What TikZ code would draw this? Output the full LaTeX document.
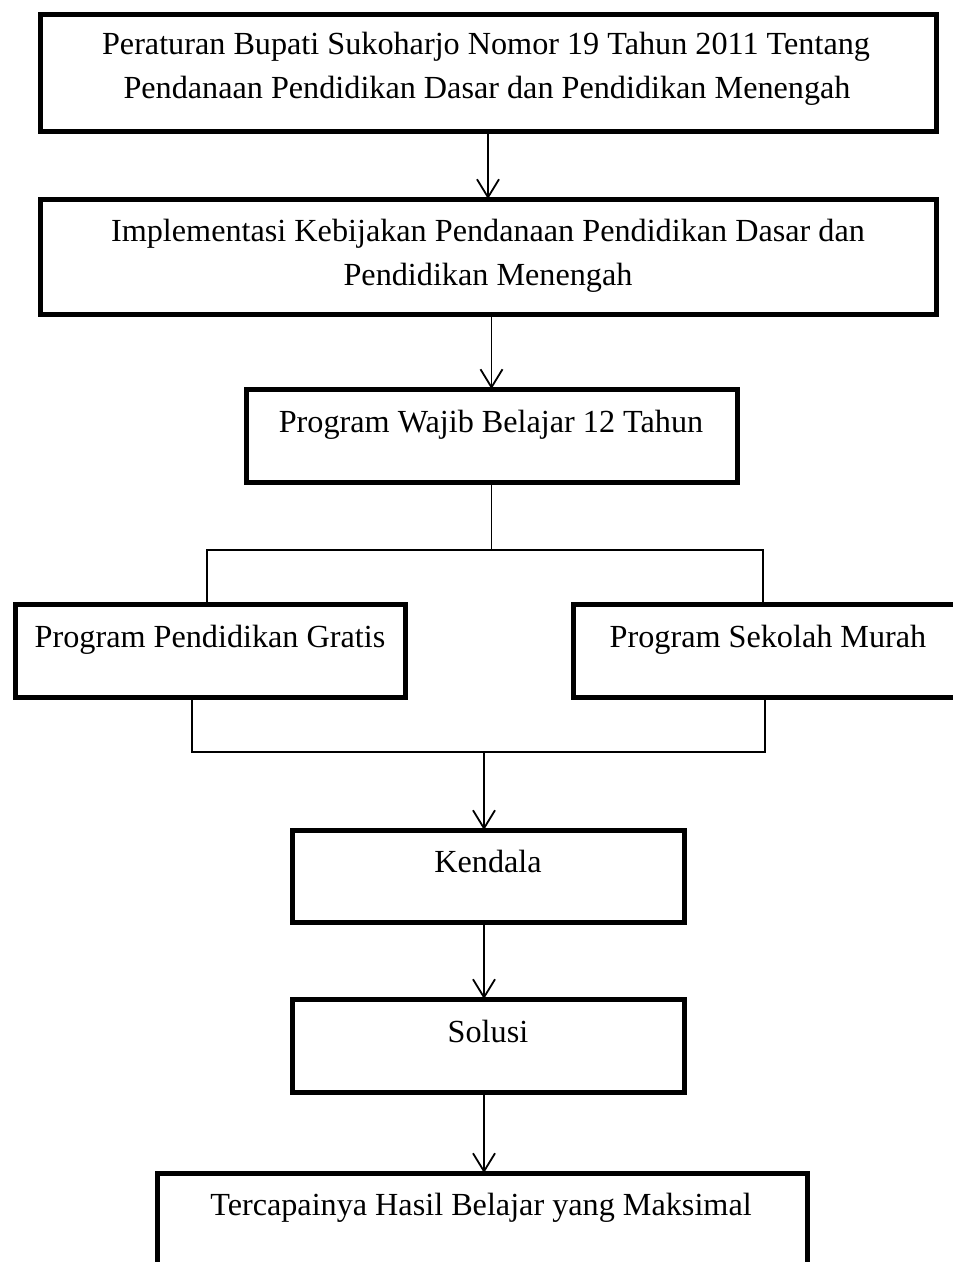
\documentclass[tikz,border=0pt]{standalone}
\usepackage{fontspec}
\setmainfont{Liberation Serif}
\usetikzlibrary{arrows.meta}
\begin{document}
\begin{tikzpicture}[x=1pt,y=-1pt,
  box/.style={draw, line width=5pt, inner sep=0pt, outer sep=0pt, anchor=north west},
  lbl/.style={anchor=base, inner sep=0pt, font=\fontsize{32.2}{44}\selectfont},
  conn/.style={line width=1.8pt},
  arr/.style={conn, -{Straight Barb[length=18pt,width=22pt,line width=1.8pt]}}]
\useasboundingbox (0,0) rectangle (953,1262);
\fill[white] (0,0) rectangle (953,1262);
\clip (0,0) rectangle (953,1262);
% boxes
\node[box, minimum width=896pt, minimum height=117pt] (b1) at (40,14) {};
\node[box, minimum width=896pt, minimum height=115pt] (b2) at (40,199) {};
\node[box, minimum width=491pt, minimum height=93pt] (b3) at (246,389) {};
\node[box, minimum width=390pt, minimum height=93pt] (b4) at (15,604) {};
\node[box, minimum width=400pt, minimum height=93pt] (b5) at (573,604) {};
\node[box, minimum width=392pt, minimum height=92pt] (k) at (292,830) {};
\node[box, minimum width=392pt, minimum height=93pt] (s) at (292,999) {};
\node[box, minimum width=650pt, minimum height=120pt] (f) at (157,1173) {};
% texts
\node[lbl] (t1a) at (486,54) {Peraturan Bupati Sukoharjo Nomor 19 Tahun 2011 Tentang};
\node[lbl] (t1b) at (487,98) {Pendanaan Pendidikan Dasar dan Pendidikan Menengah};
\node[lbl] (t2a) at (488,241) {Implementasi Kebijakan Pendanaan Pendidikan Dasar dan};
\node[lbl] (t2b) at (488,285) {Pendidikan Menengah};
\node[lbl] (t3) at (491,432) {Program Wajib Belajar 12 Tahun};
\node[lbl] (t4) at (210,647) {Program Pendidikan Gratis};
\node[lbl] (t5) at (768,647) {Program Sekolah Murah};
\node[lbl] (tk) at (488,872) {Kendala};
\node[lbl] (ts) at (488,1042) {Solusi};
\node[lbl] (tf) at (481,1215) {Tercapainya Hasil Belajar yang Maksimal};
% connectors
\draw[arr] (b1.south) -- (b2.north);
\draw[arr] (b2.south -| b3.north) -- (b3.north);
\coordinate (j1) at (491,550);
\coordinate (jl) at (207,550);
\coordinate (jr) at (763,550);
\draw[conn] (b3.south) -- (b3.south |- j1);
\draw[conn] (jl |- b4.north) -- (jl) -- (jr) -- (jr |- b5.north);
\coordinate (ml) at (192,752);
\coordinate (mr) at (765,752);
\draw[conn] (ml |- b4.south) -- (ml) -- (mr) -- (mr |- b5.south);
\coordinate (ax) at (484,752);
\draw[arr] (ax) -- (ax |- k.north);
\draw[arr] (k.south -| ax) -- (s.north -| ax);
\draw[arr] (s.south -| ax) -- (f.north -| ax);
\end{tikzpicture}
\end{document}
